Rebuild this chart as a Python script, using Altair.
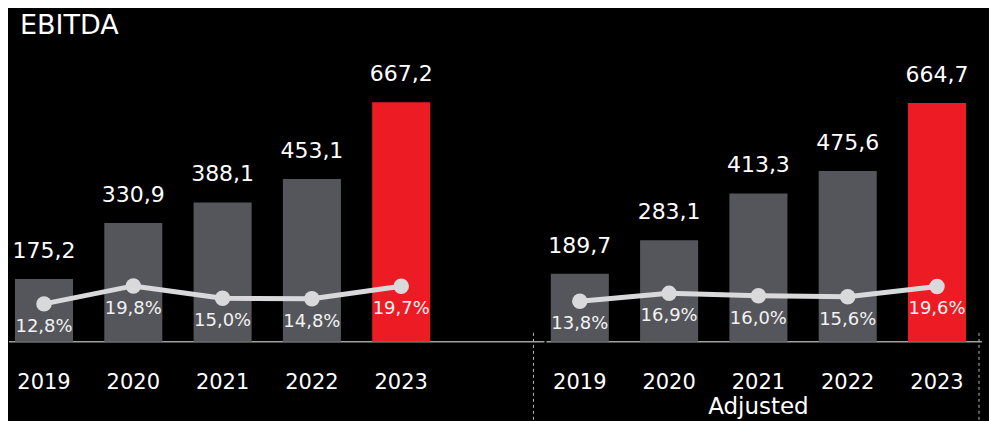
import altair as alt
import pandas as pd

years = ["2019", "2020", "2021", "2022", "2023"]
ebitda = [175.2, 330.9, 388.1, 453.1, 667.2]
ebitda_adj = [189.7, 283.1, 413.3, 475.6, 664.7]
margin = [12.8, 19.8, 15.0, 14.8, 19.7]
margin_adj = [13.8, 16.9, 16.0, 15.6, 19.6]

rows = []
for i, y in enumerate(years):
    rows.append({"key": "L" + y, "year": y, "panel": "reported", "value": ebitda[i],
                 "pct": margin[i], "last": y == "2023"})
for i, y in enumerate(years):
    rows.append({"key": "R" + y, "year": y, "panel": "adjusted", "value": ebitda_adj[i],
                 "pct": margin_adj[i], "last": y == "2023"})
df = pd.DataFrame(rows)
df["vlabel"] = df["value"].map(lambda v: f"{v:.1f}".replace(".", ","))
df["plabel"] = df["pct"].map(lambda v: f"{v:.1f}%".replace(".", ","))

domain = ["L" + y for y in years] + ["GAP"] + ["R" + y for y in years]
FONT = "DejaVu Sans"
W, H = 964, 333

xs = alt.X("key:N", scale=alt.Scale(domain=domain, paddingInner=0.35, paddingOuter=0.067),
           axis=None)
ybar = alt.Y("value:Q", scale=alt.Scale(domain=[0, 926]), axis=None)
yline = alt.Y("pct:Q", scale=alt.Scale(domain=[-2, 127.6], zero=False), axis=None)

base = alt.Chart(df)

bars = base.mark_bar().encode(
    x=xs, y=ybar,
    color=alt.Color("last:N", scale=alt.Scale(domain=[False, True], range=["#55565b", "#ed1c24"]),
                    legend=None),
)
vlabels = base.mark_text(font=FONT, fontSize=22, color="#ffffff", dy=-28).encode(
    x=xs, y=ybar, text="vlabel:N")
ylabels = base.mark_text(font=FONT, fontSize=21, color="#ffffff", baseline="middle").encode(
    x=xs, y=alt.value(374), text="year:N")
bar_layer = alt.layer(bars, vlabels, ylabels)

lines = base.mark_line(color="#d9d9db", strokeWidth=5).encode(
    x=xs, y=yline, detail="panel:N")
points = base.mark_point(filled=True, opacity=1, color="#d9d9db", size=240).encode(
    x=xs, y=yline)
plabels = base.mark_text(font=FONT, fontSize=18, color="#f2f2f2", dy=23).encode(
    x=xs, y=yline, text="plabel:N")
line_layer = alt.layer(lines, points, plabels)

adj = alt.Chart(pd.DataFrame({"key": ["R2021"], "t": ["Adjusted"]})).mark_text(
    font=FONT, fontSize=23, color="#ffffff", baseline="middle").encode(
    x=xs, y=alt.value(398), text="t:N")

title = alt.Chart(pd.DataFrame({"t": ["EBITDA"]})).mark_text(
    font=FONT, fontSize=27, color="#ffffff", align="left", baseline="middle").encode(
    x=alt.value(11), y=alt.value(17), text="t:N")

base_l = alt.Chart(pd.DataFrame({"a": [0]})).mark_rule(color="#a0a0a0", strokeWidth=1.5).encode(
    x=alt.value(0), x2=alt.value(536), y=alt.value(H))
base_r = alt.Chart(pd.DataFrame({"a": [0]})).mark_rule(color="#a0a0a0", strokeWidth=1.5).encode(
    x=alt.value(538), x2=alt.value(974), y=alt.value(H))
dash1 = alt.Chart(pd.DataFrame({"a": [0]})).mark_rule(color="#bbbbbb", strokeWidth=1,
                                                     strokeDash=[3, 3]).encode(
    x=alt.value(525), y=alt.value(H - 9), y2=alt.value(H + 80))
dash2 = alt.Chart(pd.DataFrame({"a": [0]})).mark_rule(color="#bbbbbb", strokeWidth=1,
                                                     strokeDash=[3, 3]).encode(
    x=alt.value(971), y=alt.value(H - 9), y2=alt.value(H + 80))
edge = alt.Chart(pd.DataFrame({"a": [0]})).mark_rule(color="#000000", strokeWidth=1).encode(
    x=alt.value(980), y=alt.value(0), y2=alt.value(H))

chart = alt.layer(edge, base_l, base_r, dash1, dash2, bar_layer, line_layer, adj, title).resolve_scale(
    y="independent"
).properties(
    width=W, height=H, padding=0, background="#000000"
).configure_view(stroke=None)

chart.save("out.html", embed_options={"renderer": "svg", "actions": False})
